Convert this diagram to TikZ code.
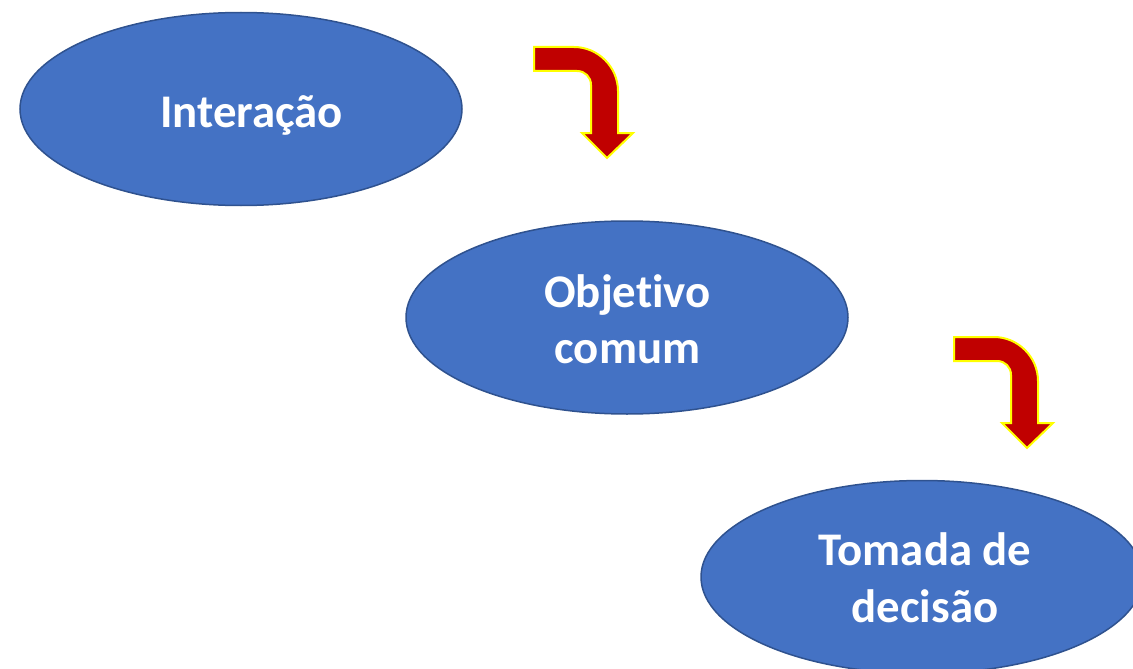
\documentclass[tikz,border=0pt]{standalone}
\usepackage{fontspec}
\setmainfont{Carlito}[Ligatures=NoCommon]
\usetikzlibrary{shapes.geometric}
\definecolor{blobfill}{HTML}{4472C4}
\definecolor{blobline}{HTML}{2F528F}
\definecolor{arrred}{HTML}{C00000}
\definecolor{arryel}{HTML}{FFFF00}
\tikzset{
  blob/.style={ellipse, draw=blobline, line width=1.5pt, fill=blobfill,
    minimum width=442pt, minimum height=193pt, inner sep=0pt},
  blobtext/.style={anchor=base, text=white, inner sep=0pt,
    font=\fontsize{46.8pt}{56pt}\selectfont\bfseries},
  bentarrow/.style={fill=arrred, draw=arryel, line width=2pt, line join=miter},
  pics/bent/.style={code={
    \path[bentarrow] (0,0) -- (40,0)
      .. controls (64,0) and (84,20) .. (84,44)
      -- (84,86) -- (99,86) -- (73,111) -- (48,86) -- (57,86) -- (57,38)
      .. controls (57,30) and (51,24) .. (43,24)
      -- (0,24) -- cycle;
  }}
}
\begin{document}
\begin{tikzpicture}[x=1pt,y=-1pt]
\useasboundingbox (0,0) rectangle (1133,669);
\clip (0,0) rectangle (1133,669);
\node[blob] (e1) at (241,109) {};
\node[blob] (e2) at (627,317.5) {};
\node[blob] (e3) at (922,577) {};
\node[blobtext] (t1) at (251.5,127) {Interação};
\node[blobtext] (t2a) at (627.5,307) {Objetivo};
\node[blobtext] (t2b) at (627.5,363) {comum};
\node[blobtext] (t3a) at (925,565) {Tomada de};
\node[blobtext] (t3b) at (925,622) {decisão};
\pic at (534,47) {bent};
\pic at (954,337) {bent};
\end{tikzpicture}
\end{document}
